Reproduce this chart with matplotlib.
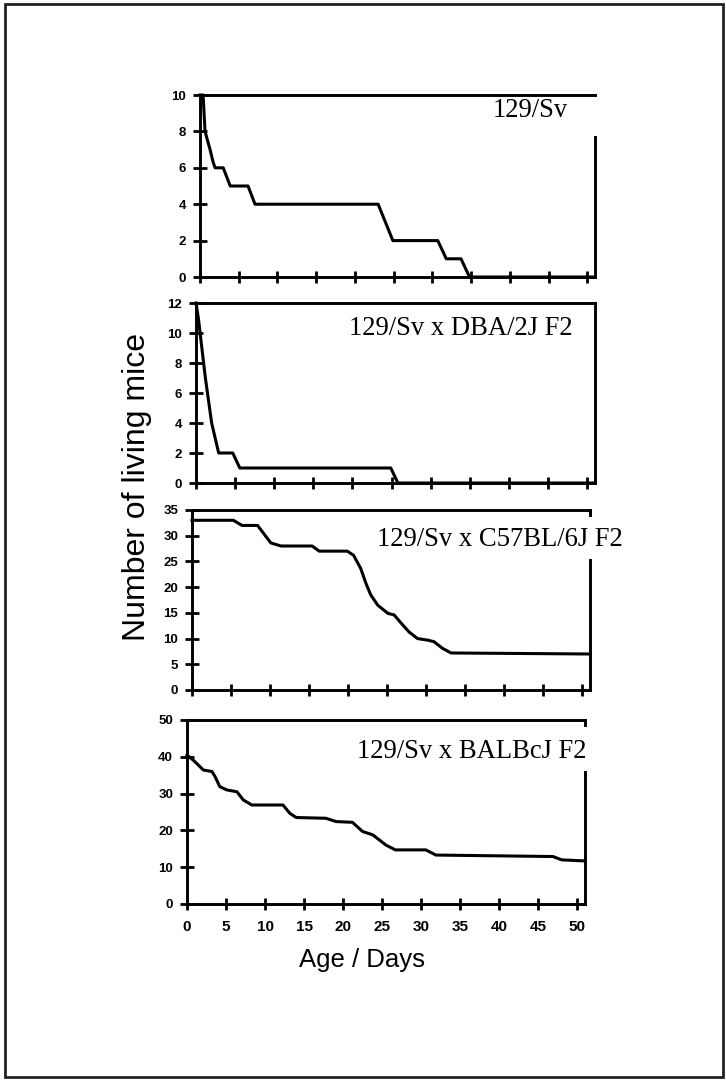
import numpy as np
import matplotlib.pyplot as plt
from matplotlib.patches import Rectangle

# survival curves (day, number of living mice)
sv_days = [0, 0.4, 0.65, 1.3, 1.7, 1.95, 3.0, 3.9, 6.2, 7.1, 23.0, 24.9, 30.7, 31.8, 33.7, 34.8, 51]
sv_mice = [10, 10, 8, 7, 6.3, 6, 6, 5, 5, 4, 4, 2, 2, 1, 1, 0, 0]

dba_days = [0, 0.3, 1.2, 2.0, 2.9, 4.7, 5.6, 24.9, 25.8, 51]
dba_mice = [12, 11, 7, 4, 2, 2, 1, 1, 0, 0]

c57_days = [0, 5.3, 6.4, 8.4, 10.1, 11.4, 15.4, 16.3, 19.9, 20.7, 21.6, 22.3, 22.9, 23.8,
            25.1, 25.9, 26.8, 27.8, 28.9, 30.2, 31.0, 32.1, 33.2, 51]
c57_mice = [33, 33, 32, 32, 28.6, 28, 28, 27, 27, 26.2, 23.7, 20.7, 18.5, 16.5,
            14.9, 14.6, 13, 11.3, 10, 9.7, 9.4, 8.1, 7.2, 7.0]

balb_days = [0, 0.85, 2.1, 3.2, 3.6, 4.2, 5.1, 6.4, 7.2, 8.3, 12.3, 13.2, 14.0, 17.8, 19.1,
             21.2, 22.5, 23.8, 25.5, 26.7, 30.6, 31.9, 46.9, 48.0, 51]
balb_mice = [40.5, 39, 36.4, 36, 34.6, 31.9, 31, 30.5, 28.3, 26.9, 26.9, 24.6, 23.5, 23.3, 22.4,
             22.2, 19.7, 18.8, 16, 14.7, 14.7, 13.3, 12.9, 12, 11.7]

labels = ['129/Sv', '129/Sv x DBA/2J F2', '129/Sv x C57BL/6J F2', '129/Sv x BALBcJ F2']
ymax = [10, 12, 35, 50]
yticks = [np.arange(0, 11, 2), np.arange(0, 13, 2), np.arange(0, 36, 5), np.arange(0, 51, 10)]
xticks = np.arange(0, 51, 5)

# axes boxes in pixels: left, right, top, bottom
boxes = [(200, 595, 95, 277), (196, 595, 303, 483), (192, 590, 510, 690), (187, 585, 720, 904)]
# label placement (axes fraction x, y, ha)
lab_pos = [(0.932, 0.879, 'right'), (0.945, 0.822, 'right'), (0.465, 0.80, 'left'), (1.005, 0.793, 'right')]
# right spine only partly visible (hidden behind the labels)
rspine = [(0, 7.7), (0, 12), (0, 25.3), (0, 35.9)]
rtop = [None, None, (34.0, 35), (48.6, 50)]

W, H = 726, 1080
fig = plt.figure(figsize=(7.26, 10.8), dpi=100)
fig.patch.set_facecolor('white')
fig.patches.append(Rectangle((5 / W, 3 / H), 718 / W, 1073 / H, transform=fig.transFigure,
                             fill=False, lw=2, ec='#222222'))

series = [(sv_days, sv_mice), (dba_days, dba_mice), (c57_days, c57_mice), (balb_days, balb_mice)]
for i, (d, m) in enumerate(series):
    l, r, t, b = boxes[i]
    ax = fig.add_axes([l / W, 1 - b / H, (r - l) / W, (b - t) / H])
    ax.plot(d, m, color='black', lw=2.2, solid_joinstyle='round', clip_on=False)
    ax.set_xlim(0, 51)
    ax.set_ylim(0, ymax[i])
    for s in ax.spines.values():
        s.set_linewidth(2.1)
    ax.spines['right'].set_bounds(*rspine[i])
    if rtop[i] is not None:
        ax.plot([51, 51], rtop[i], color='black', lw=2.1, clip_on=False)
    ax.set_yticks(yticks[i])
    ax.set_xticks(xticks)
    ax.tick_params(axis='y', direction='inout', length=10, width=2, pad=5, labelsize=9.5)
    ax.tick_params(axis='x', direction='inout', length=9, width=2, pad=7, labelsize=11)
    for lab in ax.get_yticklabels() + ax.get_xticklabels():
        lab.set_fontweight('bold')
        lab.set_family('Liberation Sans')
    if i < 3:
        ax.set_xticklabels([])
    fx, fy, ha = lab_pos[i]
    ax.text(fx, fy, labels[i], transform=ax.transAxes, ha=ha, va='baseline',
            fontsize=19.2, family='Liberation Serif', clip_on=False)

fig.text(137 / W, 1 - 487 / H, 'Number of living mice', rotation=90, ha='center', va='center',
         fontsize=23, family='Liberation Sans')
fig.text(362 / W, 1 - 960 / H, 'Age / Days', ha='center', va='center',
         fontsize=18.5, family='Liberation Sans')

plt.savefig('out.png', dpi=100)
